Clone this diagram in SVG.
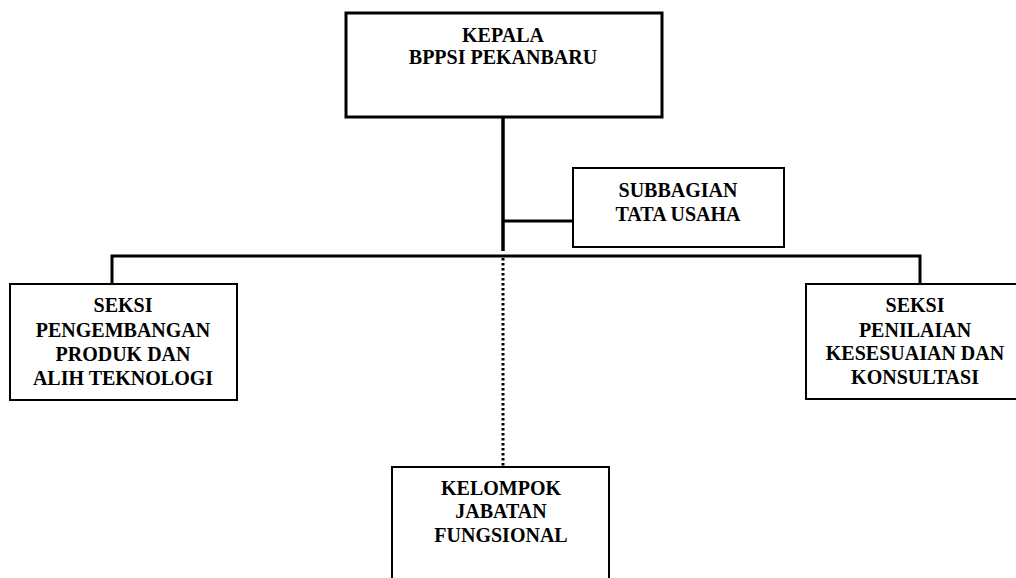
<svg xmlns="http://www.w3.org/2000/svg" width="1016" height="578" viewBox="0 0 1016 578">
<style>
.box{fill:#fff;stroke:#000;stroke-width:2}
.t{font-family:"Liberation Serif","Times New Roman",serif;font-weight:bold;font-size:20px;fill:#000;text-anchor:middle}
.ln{fill:none;stroke:#000;stroke-width:2.5}
</style>
<rect width="1016" height="578" fill="#fff"/>
<g id="connectors">
<line class="ln" x1="503" y1="117" x2="503" y2="251" style="stroke-width:3.5"/>
<line class="ln" x1="504" y1="221" x2="573" y2="221" style="stroke-width:3"/>
<polyline class="ln" points="112,284 112,256 920,256 920,284" style="stroke-width:3"/>
<line class="ln" x1="503" y1="258" x2="503" y2="467" style="stroke-width:3;stroke-dasharray:2.5 2.5"/>
</g>
<g id="kepala">
<rect class="box" x="346" y="13" width="316" height="104" style="stroke-width:3"/>
<text class="t" x="503" y="42">KEPALA</text>
<text class="t" x="503" y="64">BPPSI PEKANBARU</text>
</g>
<g id="subbagian">
<rect class="box" x="573" y="168" width="211" height="79"/>
<text class="t" x="678" y="197">SUBBAGIAN</text>
<text class="t" x="678" y="221">TATA USAHA</text>
</g>
<g id="seksi-pengembangan">
<rect class="box" x="10" y="284" width="227" height="116"/>
<text class="t" x="123" y="312">SEKSI</text>
<text class="t" x="123" y="337">PENGEMBANGAN</text>
<text class="t" x="123" y="361">PRODUK DAN</text>
<text class="t" x="123" y="385">ALIH TEKNOLOGI</text>
</g>
<g id="seksi-penilaian">
<rect class="box" x="806" y="284" width="230" height="115"/>
<text class="t" x="915" y="312">SEKSI</text>
<text class="t" x="915" y="337">PENILAIAN</text>
<text class="t" x="915" y="360">KESESUAIAN DAN</text>
<text class="t" x="915" y="384">KONSULTASI</text>
</g>
<g id="kelompok">
<rect class="box" x="392" y="467" width="217" height="130"/>
<text class="t" x="501" y="495">KELOMPOK</text>
<text class="t" x="501" y="518">JABATAN</text>
<text class="t" x="501" y="542">FUNGSIONAL</text>
</g>
</svg>
